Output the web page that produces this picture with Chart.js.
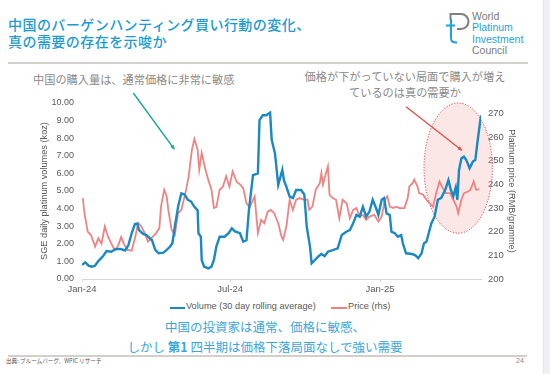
<!DOCTYPE html>
<html>
<head>
<meta charset="utf-8">
<script src="https://cdn.jsdelivr.net/npm/chart.js@4.4.1/dist/chart.umd.min.js"></script>
<style>
  html, body { margin: 0; padding: 0; }
  body { width: 550px; height: 374px; position: relative; overflow: hidden; background: #fff;
         font-family: "Noto Sans CJK JP", sans-serif; }
  .abs { position: absolute; }
  #strip { left: 543px; top: 0; width: 7px; height: 374px; background: #eef0f3; border-left: 1px solid #e3e5e9; }
  #title { left: 8px; top: 16px; font-size: 14px; line-height: 17px; color: #1b9ad6; letter-spacing: 0.45px; font-weight: 500; white-space: nowrap; }
  .rule { height: 2px; background: #d3cfcb; }
  #logo { left: 472px; top: 11px; font-family: "Liberation Sans", Arial, sans-serif; font-size: 10.5px; line-height: 11.3px; }
  .note { color: #8a8a8a; font-size: 11.2px; line-height: 16px; white-space: nowrap; }
  #legend { top: 300px; left: 0; width: 550px; height: 14px; font-family: "Liberation Sans", Arial, sans-serif; font-size: 9.2px; color: #595959; }
  #legend span { position: absolute; top: 1px; white-space: nowrap; }
  #legend i { position: absolute; top: 7px; height: 2px; }
  #msg { left: 115px; width: 300px; top: 317px; text-align: center; color: #3aa6dc; font-size: 12.5px; line-height: 20px; white-space: nowrap; }
  #src { left: 6px; top: 357px; font-size: 5.6px; color: #555; white-space: nowrap; }
  #page { left: 516px; top: 357px; font-family: "Liberation Sans", Arial, sans-serif; font-size: 7px; color: #8a8a8a; }
  #wrap { left: 0; top: 0; width: 550px; height: 374px; z-index: 2; }
</style>
</head>
<body>
<div id="strip" class="abs"></div>
<div id="title" class="abs">中国のバーゲンハンティング買い行動の変化、<br>真の需要の存在を示唆か</div>
<div class="abs rule" style="left:8px;top:62px;width:520px;"></div>

<svg class="abs" style="left:0;top:0;" width="550" height="60">
  <path d="M450.5 20 V14 H461 A7.5 7.5 0 0 1 461 29 H457" fill="none" stroke="#808080" stroke-width="2"/>
  <path d="M451 19 V38 Q451 43 457 42.5" fill="none" stroke="#1aa3dd" stroke-width="2"/>
  <path d="M446 25.5 H455" fill="none" stroke="#1aa3dd" stroke-width="2"/>
</svg>
<div id="logo" class="abs">
  <div style="color:#7a7a7a">World</div>
  <div style="color:#1aa3dd">Platinum</div>
  <div style="color:#1aa3dd">Investment</div>
  <div style="color:#7a7a7a">Council</div>
</div>

<div class="abs note" style="left:33px;top:71px;">中国の購入量は、通常価格に非常に敏感</div>
<div class="abs note" style="left:255px;width:300px;top:68px;text-align:center;">価格が下がっていない局面で購入が増え<br>ているのは真の需要か</div>

<div id="legend" class="abs">
  <i style="left:170px;width:15px;background:#1a88c2;"></i><span style="left:186px;">Volume (30 day rolling average)</span>
  <i style="left:331px;width:16px;background:#f08282;"></i><span style="left:348px;">Price (rhs)</span>
</div>

<div id="msg" class="abs">中国の投資家は通常、価格に敏感、<br>しかし <b>第1</b> 四半期は価格下落局面なしで強い需要</div>

<div class="abs rule" style="left:8px;top:355px;width:519px;height:1.5px;"></div>
<div id="src" class="abs">出典: ブルームバーグ、WPIC リサーチ</div>
<div id="page" class="abs">24</div>

<div id="wrap" class="abs"><canvas id="c"></canvas></div>

<script>
// Eje X: días desde el 1 ene 2024
const tickDays = [0, 182, 366];
const tickLabels = ['Jan-24', 'Jul-24', 'Jan-25'];

// Volumen SGE (koz, media móvil 30 días)
const volDays = [0, 4, 8, 12, 16, 20, 26, 30, 36, 41, 47, 53, 57, 61, 65, 68, 70, 75, 79, 86,
    90, 94, 100, 104, 108, 111, 114, 118, 122, 126, 130, 134, 138, 142, 143, 146, 147, 150, 155, 159,
    162, 165, 169, 175, 180, 184, 188, 194, 198, 202, 205, 210, 216, 218, 222, 226, 231, 233, 237, 241,
    246, 248, 251, 255, 259, 263, 269, 273, 276, 280, 282, 286, 290, 294, 298, 302, 308, 314, 319, 325,
    329, 333, 337, 341, 345, 349, 353, 357, 362, 364, 368, 371, 374, 378, 380, 384, 388, 392, 394, 398,
    405, 409, 413, 417, 420, 423, 429, 433, 437, 441, 446, 450, 453, 456, 459, 461, 463, 466, 469, 472,
    476, 480, 483, 486, 490];
const volume = [0.80, 0.95, 0.76, 0.70, 0.75, 1.02, 1.30, 1.59, 1.55, 1.69, 1.71, 1.62, 1.93, 2.60, 3.12, 3.15, 2.78, 2.56, 2.50, 2.20,
    1.65, 1.46, 1.50, 1.65, 1.83, 2.03, 2.97, 4.10, 4.87, 4.80, 4.50, 4.40, 4.10, 3.90, 2.60, 2.40, 1.08, 0.70, 0.60, 0.70,
    1.08, 1.84, 2.40, 2.40, 2.60, 2.88, 2.70, 2.60, 2.12, 2.20, 3.92, 5.90, 6.00, 9.03, 9.30, 9.30, 9.45, 7.90, 7.14, 5.34,
    6.20, 5.60, 5.24, 4.68, 4.60, 5.06, 5.06, 4.80, 2.97, 1.84, 0.89, 1.08, 1.27, 1.42, 1.30, 1.55, 1.64, 1.74, 2.50, 2.70,
    2.78, 3.16, 3.64, 3.54, 4.10, 3.54, 3.83, 4.50, 3.92, 3.64, 4.50, 4.60, 3.73, 3.64, 2.69, 2.60, 2.40, 2.50, 2.03, 1.46,
    1.42, 1.36, 1.18, 1.46, 2.03, 2.12, 3.16, 3.54, 4.50, 4.60, 5.06, 5.62, 5.06, 4.70, 5.20, 4.50, 6.20, 6.86, 6.95, 6.76,
    6.29, 6.67, 6.76, 7.90, 9.30];

// Precio (RMB/g, eje derecho)
const priceDays = [1, 3, 7, 11, 16, 20, 24, 28, 32, 36, 40, 44, 48, 52, 56, 61, 65, 69, 73, 77,
    81, 85, 91, 95, 97, 101, 104, 106, 110, 114, 118, 122, 127, 131, 135, 138, 142, 144, 147, 151,
    155, 159, 162, 165, 169, 173, 177, 181, 185, 190, 194, 198, 202, 206, 212, 216, 220, 224, 228, 232,
    236, 241, 245, 247, 251, 255, 259, 263, 267, 273, 277, 279, 283, 287, 292, 294, 296, 298, 302, 304,
    308, 312, 316, 320, 325, 329, 333, 337, 341, 345, 349, 353, 359, 364, 368, 372, 375, 378, 382, 386,
    390, 396, 400, 402, 406, 408, 412, 414, 419, 423, 427, 431, 435, 439, 443, 447, 452, 456, 460, 462,
    466, 469, 474, 477, 481, 484, 488];
const price = [234.2, 227.8, 220.0, 218.6, 213.7, 217.2, 215.0, 222.2, 217.9, 215.0, 212.3, 213.7, 217.7, 214.4, 212.3, 212.0, 217.2, 223.6, 222.2, 219.4,
    215.8, 217.2, 219.4, 221.5, 230.6, 237.7, 234.9, 229.2, 220.8, 218.6, 227.8, 229.2, 236.3, 243.4, 254.7, 259.2, 254.7, 246.2, 253.3, 247.0,
    242.0, 237.7, 230.0, 230.4, 237.7, 239.0, 243.4, 239.0, 245.5, 241.0, 240.0, 238.4, 232.0, 230.4, 234.9, 219.4, 225.0, 223.6, 228.5, 229.2,
    227.8, 223.6, 217.9, 216.5, 222.2, 233.5, 229.2, 233.5, 234.2, 233.5, 233.5, 229.2, 230.6, 237.7, 240.5, 244.8, 239.9, 242.7, 247.6, 235.6,
    234.2, 233.5, 225.7, 233.5, 232.0, 225.7, 229.2, 230.0, 226.4, 227.1, 225.0, 226.4, 227.1, 224.3, 226.4, 233.5, 235.0, 230.6, 230.0, 230.6,
    230.0, 230.0, 234.2, 239.1, 240.5, 242.0, 239.1, 236.3, 235.6, 233.5, 232.0, 230.6, 236.3, 241.2, 238.4, 236.3, 236.3, 233.5, 230.6, 227.8,
    233.5, 236.3, 237.0, 237.7, 241.2, 237.7, 238.0];

const BLUE = '#1a88c2';
const RED = '#f08282';
const TICK = '#595959';
const FONT = "'Liberation Sans', Arial, sans-serif";

// Anotaciones: elipse roja y flechas (en unidades de datos)
const notes = {
    id: 'notes',
    beforeDatasetsDraw(chart) {
        const { ctx, scales: { x, y } } = chart;
        const cx = x.getPixelForValue(462), cy = y.getPixelForValue(6.3);
        const rx = x.getPixelForValue(504) - cx, ry = cy - y.getPixelForValue(10.0);
        ctx.save();
        ctx.beginPath();
        ctx.ellipse(cx, cy, rx, ry, 0, 0, Math.PI * 2);
        ctx.fillStyle = 'rgba(243,170,170,0.28)';
        ctx.fill();
        ctx.setLineDash([1.2, 1.6]);
        ctx.strokeStyle = '#e03a3a';
        ctx.lineWidth = 1;
        ctx.stroke();
        ctx.restore();
    },
    afterDraw(chart) {
        const { ctx, scales: { x, y } } = chart;
        arrow(ctx, x.getPixelForValue(63), y.getPixelForValue(10.57), x.getPixelForValue(113), y.getPixelForValue(7.4), '#1fa89a');
        arrow(ctx, x.getPixelForValue(398), y.getPixelForValue(9.79), x.getPixelForValue(466), y.getPixelForValue(7.33), '#e0504a');
    }
};

function arrow(ctx, x1, y1, x2, y2, color) {
    const a = Math.atan2(y2 - y1, x2 - x1);
    ctx.save();
    ctx.strokeStyle = color;
    ctx.fillStyle = color;
    ctx.lineWidth = 1.4;
    ctx.beginPath();
    ctx.moveTo(x1, y1);
    ctx.lineTo(x2, y2);
    ctx.stroke();
    ctx.beginPath();
    ctx.moveTo(x2 + Math.cos(a) * 1.5, y2 + Math.sin(a) * 1.5);
    ctx.lineTo(x2 - Math.cos(a - 0.5) * 4, y2 - Math.sin(a - 0.5) * 4);
    ctx.lineTo(x2 - Math.cos(a + 0.5) * 4, y2 - Math.sin(a + 0.5) * 4);
    ctx.closePath();
    ctx.fill();
    ctx.restore();
}

new Chart(document.getElementById('c'), {
    type: 'line',
    data: {
        datasets: [
            {
                label: 'Volume (30 day rolling average)',
                data: volDays.map((d, i) => ({ x: d, y: volume[i] })),
                borderColor: BLUE,
                borderWidth: 2.4,
                pointRadius: 0,
                tension: 0,
                yAxisID: 'y'
            },
            {
                label: 'Price (rhs)',
                data: priceDays.map((d, i) => ({ x: d, y: price[i] })),
                borderColor: RED,
                borderWidth: 1.8,
                pointRadius: 0,
                tension: 0,
                yAxisID: 'y1'
            }
        ]
    },
    options: {
        responsive: true,
        maintainAspectRatio: false,
        animation: false,
        layout: { padding: { top: 103, bottom: 75, left: 0, right: 0 } },
        plugins: { legend: { display: false }, tooltip: { enabled: false } },
        scales: {
            x: {
                type: 'linear',
                min: 0,
                max: 490,
                afterBuildTicks: s => { s.ticks = tickDays.map(v => ({ value: v })); },
                afterFit: s => { s.height = 20; },
                ticks: {
                    color: TICK, font: { family: FONT, size: 9.5 }, padding: 2, maxRotation: 0,
                    callback: (v, i) => tickLabels[i]
                },
                grid: { display: true, drawOnChartArea: false, drawTicks: true, tickLength: 3, color: '#d4d4d4' },
                border: { display: true, color: '#d4d4d4' }
            },
            y: {
                position: 'left',
                min: 0,
                max: 10,
                afterFit: s => { s.width = 82; },
                ticks: { stepSize: 1, color: TICK, font: { family: FONT, size: 9 }, padding: 8,
                         callback: v => v.toFixed(2) },
                grid: { display: false, drawTicks: false },
                border: { display: false },
                title: { display: true, text: 'SGE daily platinum volumes (koz)', color: TICK,
                         font: { family: FONT, size: 9.2 }, padding: { top: 38.5, bottom: 0 } }
            },
            y1: {
                position: 'right',
                min: 200,
                max: 274.4,
                afterFit: s => { s.width = 69; },
                afterBuildTicks: s => { s.ticks = s.ticks.filter(t => t.value % 10 === 0); },
                ticks: { stepSize: 10, includeBounds: false, color: TICK, font: { family: FONT, size: 9.5 }, padding: 7 },
                grid: { display: false, drawTicks: false },
                border: { display: false },
                title: { display: true, text: 'Platinum price (RMB/gramme)', color: TICK,
                         font: { family: FONT, size: 9.2 }, padding: { top: 32.5, bottom: 0 } }
            }
        }
    },
    plugins: [notes]
});
</script>
</body>
</html>
